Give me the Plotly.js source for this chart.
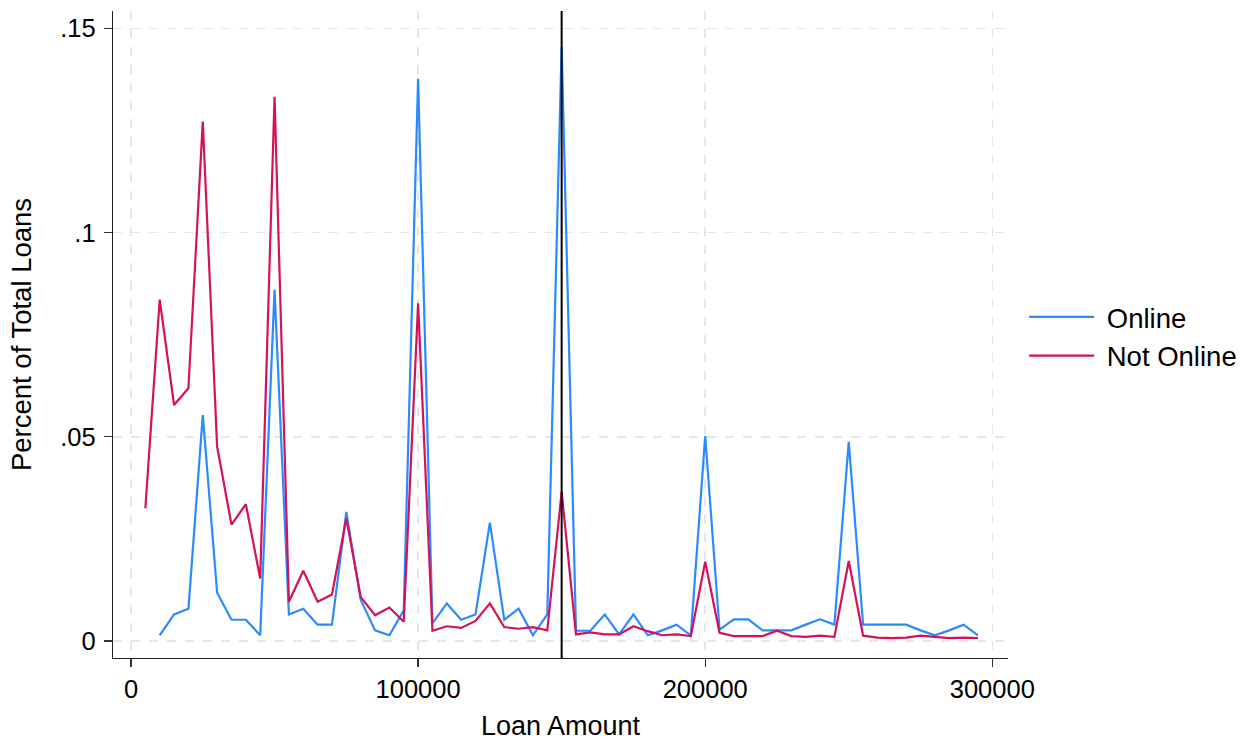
<!DOCTYPE html>
<html>
<head>
<meta charset="utf-8">
<script src="https://cdn.plot.ly/plotly-3.0.1.min.js"></script>
<style>html,body{margin:0;padding:0;background:#fff;}#chart{width:1254px;height:742px;}</style>
</head>
<body>
<div id="chart"></div>
<script>
// Loan amounts (bins of 5000)
const onlineX = [10000,15000,20000,25000,30000,35000,40000,45000,50000,55000,60000,65000,70000,75000,80000,85000,90000,95000,100000,105000,110000,115000,120000,125000,130000,135000,140000,145000,150000,155000,160000,165000,170000,175000,180000,185000,190000,195000,200000,205000,210000,215000,220000,225000,230000,235000,240000,245000,250000,255000,260000,265000,270000,275000,280000,285000,290000,295000];
const onlineY = [0.0014,0.0065,0.0079,0.0553,0.0118,0.0052,0.0052,0.0014,0.0860,0.0065,0.0079,0.0040,0.0040,0.0316,0.0101,0.0026,0.0014,0.0075,0.1377,0.0043,0.0092,0.0052,0.0065,0.0290,0.0052,0.0079,0.0014,0.0065,0.1456,0.0025,0.0025,0.0065,0.0016,0.0065,0.0014,0.0026,0.0040,0.0014,0.0502,0.0028,0.0053,0.0053,0.0026,0.0026,0.0026,0.0040,0.0053,0.0040,0.0488,0.0040,0.0040,0.0040,0.0040,0.0026,0.0014,0.0026,0.0040,0.0014];
const notOnlineX = [5000,10000,15000,20000,25000,30000,35000,40000,45000,50000,55000,60000,65000,70000,75000,80000,85000,90000,95000,100000,105000,110000,115000,120000,125000,130000,135000,140000,145000,150000,155000,160000,165000,170000,175000,180000,185000,190000,195000,200000,205000,210000,215000,220000,225000,230000,235000,240000,245000,250000,255000,260000,265000,270000,275000,280000,285000,290000,295000];
const notOnlineY = [0.0325,0.0836,0.0578,0.0619,0.1272,0.0476,0.0285,0.0335,0.0153,0.1333,0.0096,0.0172,0.0096,0.0114,0.0300,0.0108,0.0063,0.0082,0.0047,0.0827,0.0025,0.0036,0.0032,0.0049,0.0092,0.0034,0.0030,0.0034,0.0026,0.0365,0.0016,0.0021,0.0016,0.0016,0.0036,0.0024,0.0014,0.0016,0.0012,0.0194,0.0020,0.0012,0.0012,0.0012,0.0025,0.0012,0.0010,0.0013,0.0010,0.0196,0.0013,0.0008,0.0007,0.0008,0.0013,0.0010,0.0007,0.0008,0.0007];
const cutoff = 150000;
const seriesNames = ['Online', 'Not Online'];
const xTickVals = [0,100000,200000,300000];
const xTickText = ['0','100000','200000','300000'];
const yTickVals = [0,0.05,0.1,0.15];
const yTickText = ['0','.05','.1','.15'];

const FONT = 'Liberation Sans, Arial, Helvetica, sans-serif';
const NB = '\u00a0';
const traces = [
  {x: onlineX, y: onlineY, type: 'scatter', mode: 'lines', name: NB + seriesNames[0],
   line: {color: '#2a8bff', width: 2.2}},
  {x: notOnlineX, y: notOnlineY, type: 'scatter', mode: 'lines', name: NB + seriesNames[1],
   line: {color: '#d41159', width: 2.2}}
];
const layout = {
  width: 1254, height: 742,
  margin: {l: 113, r: 246, t: 11, b: 84, autoexpand: false},
  paper_bgcolor: '#fff', plot_bgcolor: '#fff',
  font: {family: FONT, size: 25, color: '#000'},
  showlegend: true,
  legend: {x: 1.018, xanchor: 'left', y: 0.497, yanchor: 'middle',
           font: {family: FONT, size: 27.5, color: '#000'}, itemwidth: 65,
           bgcolor: 'rgba(0,0,0,0)', borderwidth: 0},
  xaxis: {
    range: [-6270, 305470], tickmode: 'array', tickvals: xTickVals, ticktext: xTickText,
    showgrid: true, gridcolor: '#e6e6e6', gridwidth: 1.5, griddash: 'dash',
    zeroline: false, showline: true, linecolor: '#222', linewidth: 1.3,
    ticks: 'outside', ticklen: 8, tickcolor: '#333', tickwidth: 1.3,
    tickfont: {family: FONT, size: 25.5, color: '#000'},
    title: {text: 'Loan Amount', font: {family: FONT, size: 27, color: '#000'}, standoff: 14},
    automargin: false
  },
  yaxis: {
    range: [-0.00417, 0.1543], tickmode: 'array', tickvals: yTickVals, ticktext: yTickText,
    showgrid: true, gridcolor: '#e6e6e6', gridwidth: 1.5, griddash: 'dash',
    zeroline: false, showline: true, linecolor: '#222', linewidth: 1.3,
    ticks: 'outside', ticklen: 8, tickcolor: '#333', tickwidth: 1.3,
    ticklabelstandoff: 3,
    tickfont: {family: FONT, size: 25.5, color: '#000'},
    title: {text: 'Percent of Total Loans', font: {family: FONT, size: 27.5, color: '#000'}, standoff: 20},
    automargin: false
  },
  shapes: [
    {type: 'line', xref: 'x', yref: 'paper', x0: cutoff, x1: cutoff, y0: 0, y1: 1,
     line: {color: '#000', width: 2}, layer: 'above'}
  ]
};
Plotly.newPlot('chart', traces, layout, {displayModeBar: false, staticPlot: true});
</script>
</body>
</html>
